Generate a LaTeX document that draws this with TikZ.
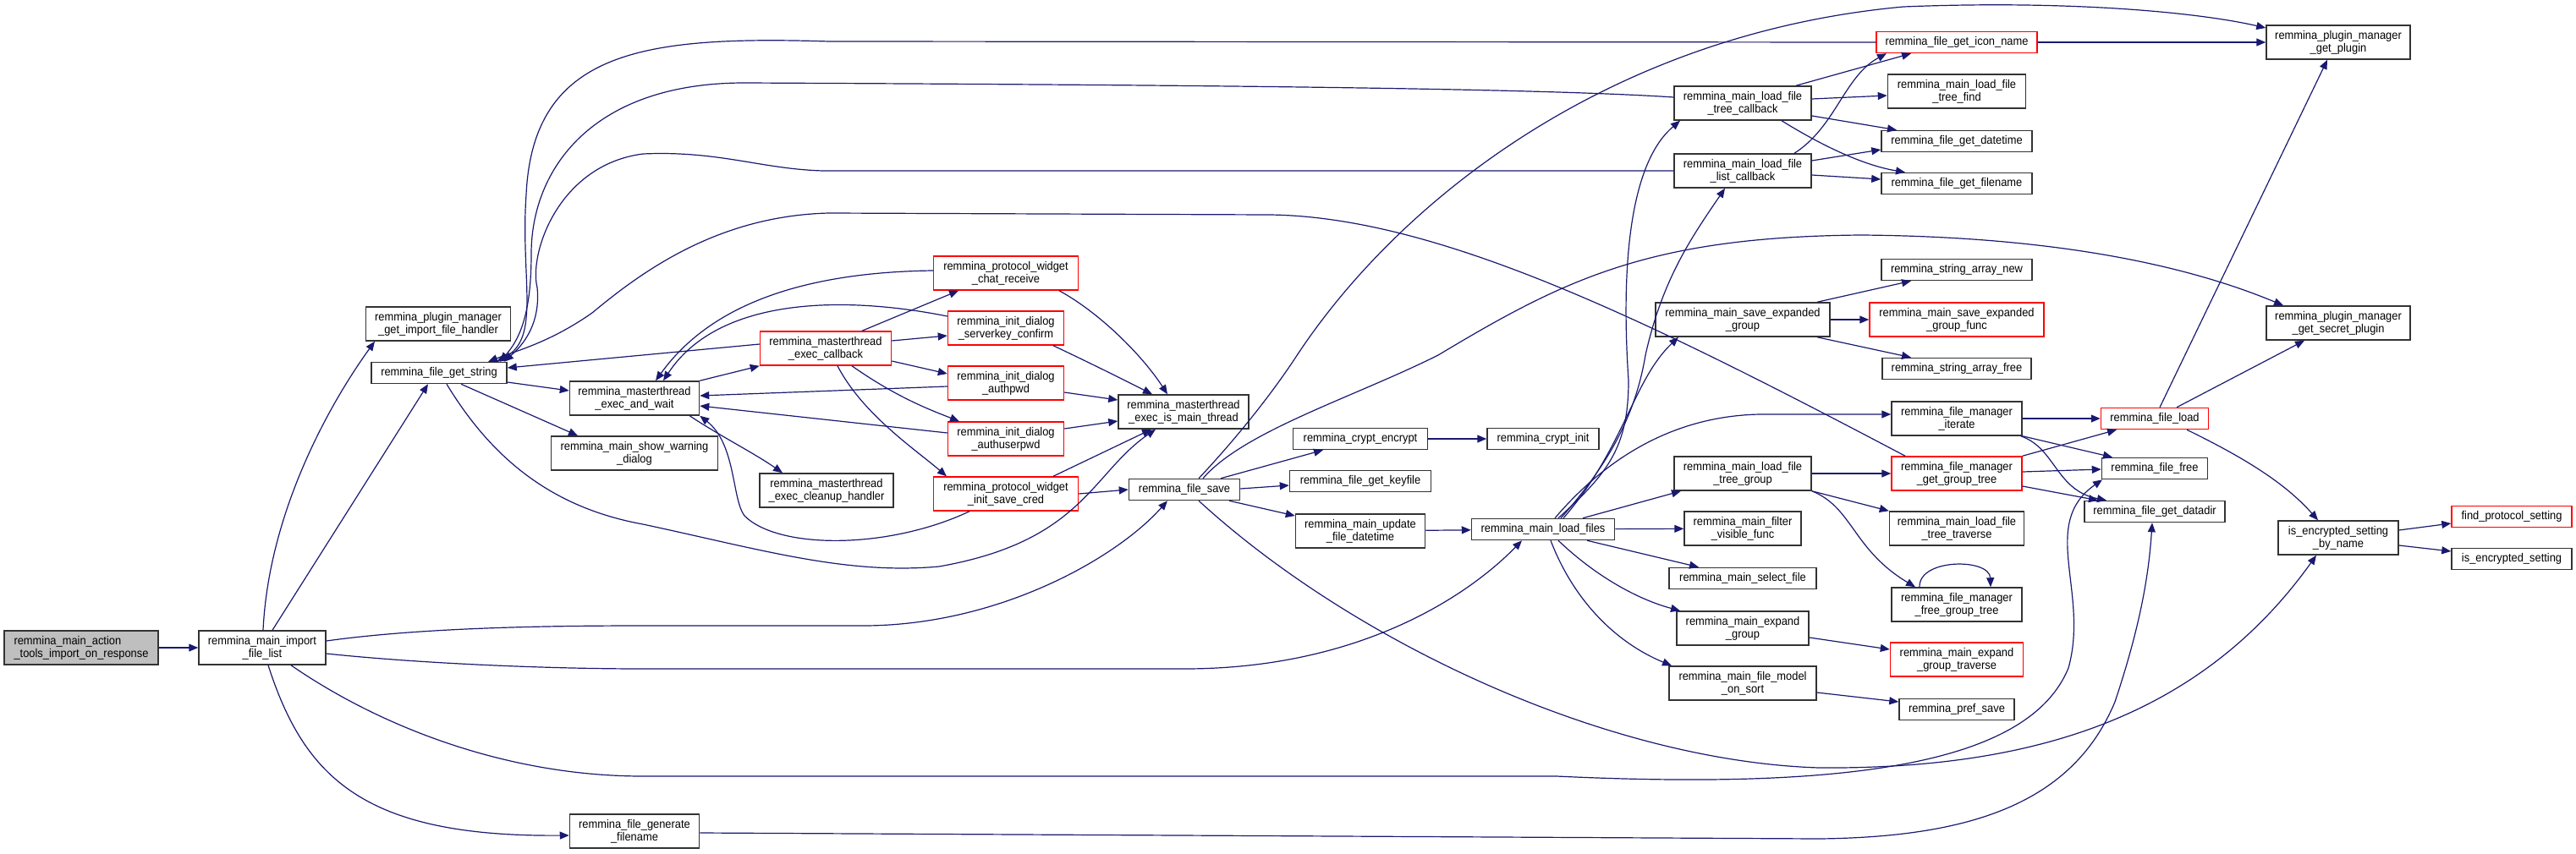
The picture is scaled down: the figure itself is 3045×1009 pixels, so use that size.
\documentclass[tikz,border=0pt]{standalone}
\usepackage{fontspec}
\newfontfamily\graphfont[FakeStretch=0.92]{Liberation Sans}
\usepackage{tikz}
\usetikzlibrary{
    arrows.meta,
}
\definecolor{edgeblue}{RGB}{25,25,112}
\definecolor{rootgray}{RGB}{191,191,191}
\tikzset{
    % Function node styles
    func/.style={rectangle, draw=black!80, line width=1.5pt, fill=white,
                 minimum height=25pt, inner sep=0pt, align=center,
                 font=\graphfont\fontsize{14}{15}\selectfont},
    tall func/.style={func, minimum height=40pt},
    truncated/.style={draw=red},
    root func/.style={tall func, fill=rootgray, align=left},
    % Call arrow style
    call/.style={-{Triangle[length=11pt, width=9pt]}, line width=1.2pt, draw=edgeblue},
}

\begin{document}
\begin{tikzpicture}[x=1pt, y=-1pt]
    \useasboundingbox (0,0) rectangle (3045,1009);

    % Root and first level
    \node[root func, minimum width=182pt] (act) at (96,766) {remmina\_main\_action\\\_tools\_import\_on\_response};
    \node[tall func, minimum width=150pt] (imp) at (310,766) {remmina\_main\_import\\\_file\_list};

    % Second level
    \node[tall func, minimum width=171pt] (hnd) at (518,383) {remmina\_plugin\_manager\\\_get\_import\_file\_handler};
    \node[func, minimum width=160pt] (gstr) at (519,441) {remmina\_file\_get\_string};
    \node[tall func, minimum width=153pt] (wait) at (750,471) {remmina\_masterthread\\\_exec\_and\_wait};
    \node[tall func, minimum width=197pt] (warn) at (750,536) {remmina\_main\_show\_warning\\\_dialog};
    \node[tall func, minimum width=153pt] (gen) at (750,983) {remmina\_file\_generate\\\_filename};

    % Master thread
    \node[tall func, truncated, minimum width=155pt] (cb) at (976,412) {remmina\_masterthread\\\_exec\_callback};
    \node[tall func, minimum width=158pt] (cln) at (977,580) {remmina\_masterthread\\\_exec\_cleanup\_handler};
    \node[tall func, truncated, minimum width=171pt] (chat) at (1189,323) {remmina\_protocol\_widget\\\_chat\_receive};
    \node[tall func, truncated, minimum width=137pt] (skey) at (1189,388) {remmina\_init\_dialog\\\_serverkey\_confirm};
    \node[tall func, truncated, minimum width=137pt] (apwd) at (1189,453) {remmina\_init\_dialog\\\_authpwd};
    \node[tall func, truncated, minimum width=137pt] (aupwd) at (1189,519) {remmina\_init\_dialog\\\_authuserpwd};
    \node[tall func, truncated, minimum width=171pt] (cred) at (1189,584) {remmina\_protocol\_widget\\\_init\_save\_cred};
    \node[tall func, minimum width=154pt] (mthr) at (1399,487) {remmina\_masterthread\\\_exec\_is\_main\_thread};
    \node[func, minimum width=131pt] (save) at (1400,579) {remmina\_file\_save};

    % File save callees
    \node[func, minimum width=159pt] (enc) at (1608,519) {remmina\_crypt\_encrypt};
    \node[func, minimum width=167pt] (kf) at (1608,569) {remmina\_file\_get\_keyfile};
    \node[tall func, minimum width=153pt] (upd) at (1608,628) {remmina\_main\_update\\\_file\_datetime};
    \node[func, minimum width=132pt] (cinit) at (1824,519) {remmina\_crypt\_init};
    \node[func, minimum width=169pt] (load) at (1824,626) {remmina\_main\_load\_files};

    % Load files callees
    \node[tall func, minimum width=162pt] (tcb) at (2060,122) {remmina\_main\_load\_file\\\_tree\_callback};
    \node[tall func, minimum width=162pt] (lcb) at (2060,202) {remmina\_main\_load\_file\\\_list\_callback};
    \node[tall func, minimum width=206pt] (seg) at (2060,378) {remmina\_main\_save\_expanded\\\_group};
    \node[tall func, minimum width=162pt] (tgrp) at (2060,560) {remmina\_main\_load\_file\\\_tree\_group};
    \node[tall func, minimum width=138pt] (filt) at (2060,625) {remmina\_main\_filter\\\_visible\_func};
    \node[func, minimum width=174pt] (sel) at (2060,684) {remmina\_main\_select\_file};
    \node[tall func, minimum width=156pt] (exg) at (2060,743) {remmina\_main\_expand\\\_group};
    \node[tall func, minimum width=174pt] (sort) at (2060,808) {remmina\_main\_file\_model\\\_on\_sort};

    % Next column
    \node[func, truncated, minimum width=190pt] (icon) at (2313,50) {remmina\_file\_get\_icon\_name};
    \node[tall func, minimum width=163pt] (tfind) at (2313,108) {remmina\_main\_load\_file\\\_tree\_find};
    \node[func, minimum width=178pt] (dt) at (2313,167) {remmina\_file\_get\_datetime};
    \node[func, minimum width=178pt] (fname) at (2313,217) {remmina\_file\_get\_filename};
    \node[func, minimum width=178pt] (san) at (2313,319) {remmina\_string\_array\_new};
    \node[tall func, truncated, minimum width=206pt] (segf) at (2313,378) {remmina\_main\_save\_expanded\\\_group\_func};
    \node[func, minimum width=176pt] (saf) at (2313,436) {remmina\_string\_array\_free};
    \node[tall func, minimum width=154pt] (iter) at (2313,495) {remmina\_file\_manager\\\_iterate};
    \node[tall func, truncated, minimum width=154pt] (ggt) at (2313,560) {remmina\_file\_manager\\\_get\_group\_tree};
    \node[tall func, minimum width=159pt] (ttr) at (2313,625) {remmina\_main\_load\_file\\\_tree\_traverse};
    \node[tall func, minimum width=154pt] (fgt) at (2313,715) {remmina\_file\_manager\\\_free\_group\_tree};
    \node[tall func, truncated, minimum width=157pt] (egt) at (2313,780) {remmina\_main\_expand\\\_group\_traverse};
    \node[func, minimum width=136pt] (pref) at (2313,839) {remmina\_pref\_save};

    % File helpers
    \node[func, truncated, minimum width=127pt] (fload) at (2547,495) {remmina\_file\_load};
    \node[func, minimum width=125pt] (ffree) at (2547,554) {remmina\_file\_free};
    \node[func, minimum width=166pt] (ddir) at (2547,605) {remmina\_file\_get\_datadir};

    % Plugin manager and settings
    \node[tall func, minimum width=170pt] (gpl) at (2764,50) {remmina\_plugin\_manager\\\_get\_plugin};
    \node[tall func, minimum width=170pt] (gsp) at (2764,382) {remmina\_plugin\_manager\\\_get\_secret\_plugin};
    \node[tall func, minimum width=142pt] (isen) at (2764,636) {is\_encrypted\_setting\\\_by\_name};
    \node[func, truncated, minimum width=142pt] (fps) at (2969,611) {find\_protocol\_setting};
    \node[func, minimum width=142pt] (ise) at (2969,661) {is\_encrypted\_setting};

    % Calls from the root
    \draw[call] (act) -- (imp);
    \draw[call] ([xshift=1pt]imp.north) .. controls (318,600) and (395,470) .. ([xshift=-75pt]hnd.south);
    \draw[call] ([xshift=12pt]imp.north) -- ([xshift=-13pt]gstr.south);
    \draw[call] ([yshift=8pt]imp.east) .. controls (500,742) and (650,740) .. (760,740) -- (1020,740)
        .. controls (1180,740) and (1320,660) .. ([xshift=-20pt]save.south);
    \draw[call] ([yshift=-7pt]imp.east) .. controls (500,785) and (650,791) .. (760,791) -- (1400,791)
        .. controls (1600,791) and (1730,710) .. ([xshift=-25pt]load.south);
    \draw[call] ([xshift=34pt]imp.south) .. controls (450,860) and (600,918) .. (760,918) -- (1840,918)
        .. controls (2200,935) and (2400,900) .. (2445,790)
        .. controls (2470,700) and (2410,620) .. ([xshift=-62pt]ffree.south);
    \draw[call] ([xshift=7pt]imp.south) .. controls (360,920) and (430,990) .. ([yshift=-5pt]gen.west);
    \draw[call] ([yshift=-2pt]gen.east) -- (2150,992) .. controls (2330,990) and (2450,950) .. (2500,830)
        .. controls (2530,740) and (2540,680) .. ([xshift=-3pt]ddir.south);

    % File get string
    \draw[call] ([yshift=-11pt]gstr.east) -- ([yshift=9pt]wait.west);
    \draw[call] ([xshift=26pt]gstr.south) -- ([xshift=-67pt]warn.north);
    \draw[call] ([xshift=9pt]gstr.south) .. controls (580,540) and (650,600) .. (760,620)
        .. controls (900,650) and (1000,680) .. (1110,670)
        .. controls (1280,640) and (1290,560) .. ([xshift=-33pt]mthr.south);

    % Master thread calls
    \draw[call] (wait.north east) -- (cb.south west);
    \draw[call] ([xshift=-12pt]wait.south east) .. controls (850,515) and (890,535) .. ([xshift=-52pt]cln.north);
    \draw[call] ([xshift=-43pt]cred.south) .. controls (1050,650) and (920,650) .. (880,610)
        .. controls (865,590) and (870,525) .. (wait.south east);
    \draw[call] ([yshift=3pt]chat.west) .. controls (950,322) and (840,360) .. ([xshift=25pt]wait.north);
    \draw[call] ([yshift=14pt]skey.west) .. controls (1000,350) and (850,350) .. ([xshift=34pt]wait.north);
    \draw[call] ([yshift=-4pt]apwd.west) -- ([yshift=3pt]wait.east);
    \draw[call] ([yshift=7pt]aupwd.west) -- ([yshift=-9pt]wait.east);
    \draw[call] ([xshift=43pt]cb.north) -- ([xshift=-56pt]chat.south);
    \draw[call] ([yshift=9pt]cb.east) -- ([yshift=-9pt]skey.west);
    \draw[call] ([yshift=-15pt]cb.east) -- ([yshift=11pt]apwd.west);
    \draw[call] ([xshift=31pt]cb.south) .. controls (1060,470) and (1100,485) .. ([xshift=-55pt]aupwd.north);
    \draw[call] ([xshift=14pt]cb.south) .. controls (1020,490) and (1080,530) .. ([xshift=-70pt]cred.north);
    \draw[call] ([yshift=5pt]cb.west) -- ([yshift=6pt]gstr.east);
    \draw[call] ([xshift=63pt]chat.south) .. controls (1300,370) and (1350,420) .. ([xshift=-19pt]mthr.north);
    \draw[call] ([xshift=56pt]skey.south) .. controls (1290,430) and (1330,450) .. ([xshift=-37pt]mthr.north);
    \draw[call] ([yshift=-11pt]apwd.east) -- ([yshift=14pt]mthr.west);
    \draw[call] ([yshift=12pt]aupwd.east) -- ([yshift=-11pt]mthr.west);
    \draw[call] ([xshift=56pt]cred.north) -- ([xshift=-38pt]mthr.south);
    \draw[call] (cred.east) -- (save.west);

    % File save
    \draw[call] ([xshift=17pt]save.north) .. controls (1460,520) and (1500,470) .. (1530,425)
        .. controls (1650,240) and (1900,40) .. (2250,8)
        .. controls (2450,0) and (2600,15) .. ([yshift=17pt]gpl.west);
    \draw[call] ([xshift=22pt]save.north) .. controls (1470,510) and (1600,470) .. (1700,420)
        .. controls (1850,330) and (1950,280) .. (2200,278)
        .. controls (2450,280) and (2600,320) .. ([xshift=-65pt]gsp.north);
    \draw[call] ([xshift=43pt]save.north) -- ([xshift=-44pt]enc.south);
    \draw[call] ([yshift=1pt]save.east) -- ([yshift=-5pt]kf.west);
    \draw[call] ([xshift=53pt]save.south) -- ([yshift=18pt]upd.west);
    \draw[call] ([xshift=17pt]save.south) .. controls (1600,760) and (1900,900) .. (2150,908)
        .. controls (2400,910) and (2600,850) .. ([xshift=-26pt]isen.south);
    \draw[call] (enc) -- (cinit);
    \draw[call] (upd) -- (load);

    % Load files
    \draw[call] ([xshift=18pt]load.north) .. controls (1900,560) and (1925,530) .. (1925,450)
        .. controls (1915,300) and (1930,190) .. ([xshift=-74pt]tcb.south);
    \draw[call] ([xshift=21pt]load.north) .. controls (1910,540) and (1935,480) .. (1945,420)
        .. controls (1965,330) and (2000,280) .. ([xshift=-21pt]lcb.south);
    \draw[call] ([xshift=24pt]load.north) .. controls (1920,530) and (1930,450) .. ([xshift=-76pt]seg.south);
    \draw[call] ([xshift=14pt]load.north) .. controls (1900,540) and (1980,492) .. (2080,490) -- ([yshift=5pt]iter.west);
    \draw[call] ([xshift=47pt]load.north) -- ([xshift=-73pt]tgrp.south);
    \draw[call] (load) -- (filt);
    \draw[call] ([xshift=52pt]load.south) -- ([xshift=-52pt]sel.north);
    \draw[call] ([xshift=18pt]load.south) .. controls (1890,685) and (1940,710) .. ([xshift=-74pt]exg.north);
    \draw[call] ([xshift=9pt]load.south) .. controls (1860,710) and (1910,760) .. ([xshift=-84pt]sort.north);

    % Callbacks
    \draw[call] ([xshift=63pt]tcb.north) -- ([xshift=-54pt]icon.south);
    \draw[call] ([yshift=5pt]tcb.east) -- ([yshift=-5pt]tfind.west);
    \draw[call] ([yshift=-15pt]tcb.east) -- ([xshift=-71pt]dt.north);
    \draw[call] ([xshift=46pt]tcb.south) .. controls (2150,170) and (2200,195) .. ([xshift=-61pt]fname.north);
    \draw[call] ([xshift=61pt]lcb.north) .. controls (2170,150) and (2180,90) .. ([xshift=-83pt]icon.south);
    \draw[call] ([yshift=12pt]lcb.east) -- ([yshift=-10pt]dt.west);
    \draw[call] ([yshift=-5pt]lcb.east) -- ([yshift=5pt]fname.west);

    % Back to file get string
    \draw[call] ([yshift=7pt]tcb.west) .. controls (1800,103) and (1300,100) .. (880,98)
        .. controls (700,98) and (628,200) .. (628,300)
        .. controls (628,370) and (615,400) .. ([xshift=72pt]gstr.north);
    \draw[call] (icon.west) -- (980,49) .. controls (760,42) and (630,60) .. (622,230)
        .. controls (615,330) and (640,400) .. ([xshift=68pt]gstr.north);
    \draw[call] (lcb.west) -- (973,202) .. controls (900,200) and (850,178) .. (760,182)
        .. controls (660,195) and (625,300) .. (635,340)
        .. controls (640,390) and (610,415) .. ([xshift=77pt]gstr.north);
    \draw[call] ([xshift=-61pt]ggt.north) .. controls (1950,380) and (1700,256) .. (1500,254) -- (980,252)
        .. controls (850,255) and (760,320) .. (700,370)
        .. controls (650,405) and (610,415) .. ([xshift=58pt]gstr.north);

    % Groups
    \draw[call] ([xshift=88pt]seg.north) -- ([xshift=-54pt]san.south);
    \draw[call] (seg) -- (segf);
    \draw[call] ([xshift=88pt]seg.south) -- ([xshift=-54pt]saf.north);
    \draw[call] (tgrp) -- (ggt);
    \draw[call] (tgrp.south east) -- (ttr.north west);
    \draw[call] (tgrp.south east) .. controls (2190,600) and (2190,650) .. ([xshift=-49pt]fgt.north);
    \draw[call] ([xshift=-44pt]fgt.north) .. controls (2268,660) and (2352,660) .. ([xshift=40pt]fgt.north);
    \draw[call] ([yshift=-11pt]exg.east) -- ([yshift=12pt]egt.west);
    \draw[call] ([yshift=-11pt]sort.east) -- ([yshift=9pt]pref.west);

    % File manager
    \draw[call] (iter) -- (fload);
    \draw[call] (iter.south east) -- ([xshift=-50pt]ffree.north);
    \draw[call] ([xshift=-2pt]iter.south east) .. controls (2430,530) and (2430,580) .. ([xshift=-57pt]ddir.north);
    \draw[call] (ggt.north east) -- ([xshift=-45pt]fload.south);
    \draw[call] ([yshift=2pt]ggt.east) -- ([yshift=-1pt]ffree.west);
    \draw[call] ([yshift=-15pt]ggt.east) -- ([xshift=-67pt]ddir.north);

    % File load and settings
    \draw[call] ([xshift=6pt]fload.north) -- ([xshift=-13pt]gpl.south);
    \draw[call] ([xshift=26pt]fload.north) -- ([xshift=-40pt]gsp.south);
    \draw[call] ([xshift=38pt]fload.south) .. controls (2650,540) and (2700,570) .. ([xshift=-24pt]isen.north);
    \draw[call] ([yshift=9pt]isen.east) -- ([yshift=-8pt]fps.west);
    \draw[call] ([yshift=-9pt]isen.east) -- ([yshift=9pt]ise.west);
    \draw[call] (icon) -- (gpl);
\end{tikzpicture}
\end{document}
